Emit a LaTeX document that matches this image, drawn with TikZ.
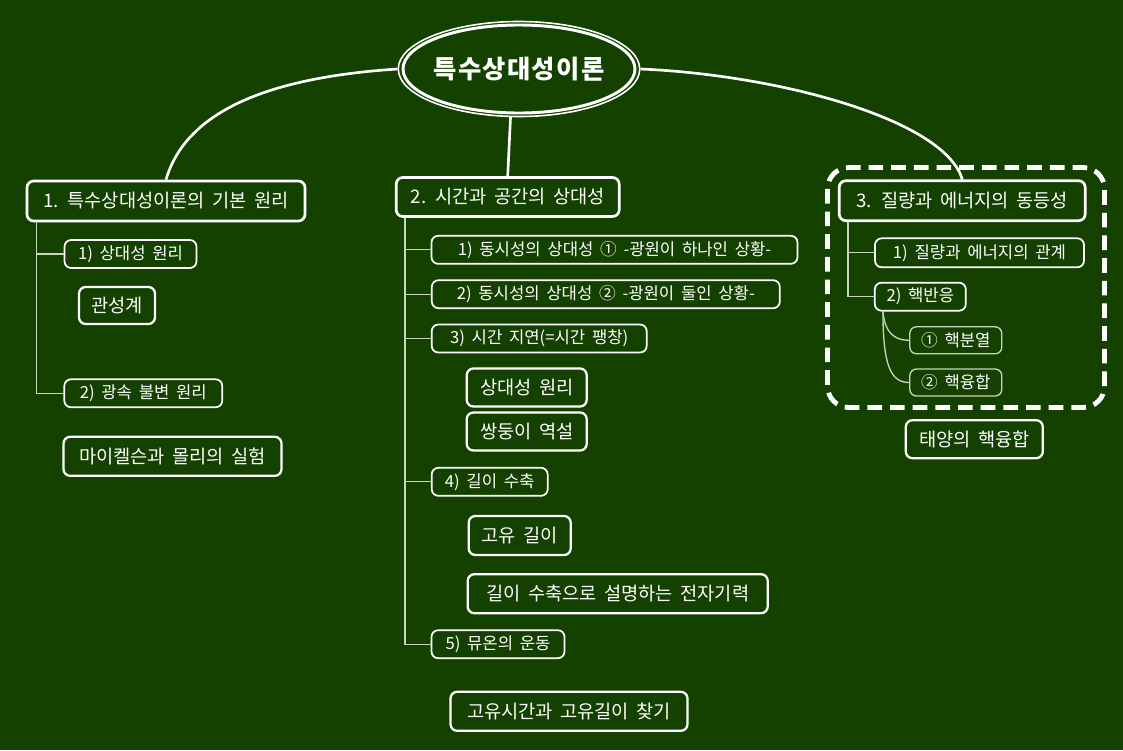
\documentclass[tikz,border=0pt]{standalone}
\usepackage{fontspec}
\setmainfont{Noto Sans CJK KR}[WordSpace=1.8]
\usetikzlibrary{shapes.geometric}
\definecolor{board}{RGB}{20,64,0}
\definecolor{twig}{RGB}{200,212,190}
\newcommand\pxu{0.75pt}
\tikzset{topbox/.style={draw=white, line width=2pt, rounded corners=5pt, inner sep=0pt, text=white, font=\fontsize{14}{16}\selectfont},
 subbox/.style={draw=white, line width=1.3pt, rounded corners=5pt, inner sep=0pt, text=white, font=\fontsize{12.5}{14}\selectfont},
 leafbox/.style={draw=white, line width=1.7pt, rounded corners=5pt, inner sep=0pt, text=white, font=\fontsize{14}{16}\selectfont},
 twigbox/.style={subbox, draw=twig, line width=1pt},
 sz/.style 2 args={minimum width=#1*\pxu, minimum height=#2*\pxu},
 stem/.style={white, line width=2pt},
 twigline/.style={twig, line width=1pt}}

\begin{document}
\begin{tikzpicture}[x=\pxu, y=-\pxu]
  \fill[board] (0,0) rectangle (1123,750);
  \node[ellipse, draw=white, line width=1.2pt, sz={240}{95}, inner sep=0pt, text=white, font=\fontsize{19}{21}\selectfont\bfseries\addfontfeature{LetterSpace=5}] (root) at (519,69) {특수상대성이론};
  \draw[white, line width=2.2pt] (root.center) ellipse [x radius=116, y radius=44];

  \node[topbox, sz={278}{40}] (n1) at (166,201) {1. 특수상대성이론의 기본 원리};
  \node[subbox, sz={132}{28}] (n1a) at (130.5,254) {1) 상대성 원리};
  \node[leafbox, sz={76}{37}] (k1) at (117,305.5) {관성계};
  \node[subbox, sz={158}{28}] (n1b) at (143.3,393.3) {2) 광속 불변 원리};
  \node[leafbox, sz={218}{39}] (k2) at (172.5,456.3) {마이켈슨과 몰리의 실험};

  \node[topbox, sz={223}{39}] (n2) at (507.7,197) {2. 시간과 공간의 상대성};
  \node[subbox, sz={366}{28}] (n2a) at (614.5,249.8) {1) 동시성의 상대성 ① -광원이 하나인 상황-};
  \node[subbox, sz={348}{28}] (n2b) at (605.8,294.2) {2) 동시성의 상대성 ② -광원이 둘인 상황-};
  \node[subbox, sz={215}{28}] (n2c) at (539.2,338.5) {3) 시간 지연(=시간 팽창)};
  \node[leafbox, sz={120}{38}] (k3) at (526.7,387.5) {상대성 원리};
  \node[leafbox, sz={120}{38}] (k4) at (526.7,431.5) {쌍둥이 역설};
  \node[subbox, sz={116}{28}] (n2d) at (489.7,481.8) {4) 길이 수축};
  \node[leafbox, sz={102}{39}] (k5) at (519.7,535.5) {고유 길이};
  \node[leafbox, sz={300}{39}] (k6) at (617.7,593.7) {길이 수축으로 설명하는 전자기력};
  \node[subbox, sz={133}{28}] (n2e) at (498,644.2) {5) 뮤온의 운동};
  \node[leafbox, sz={237}{39}] (k7) at (569,711.3) {고유시간과 고유길이 찾기};

  \node[topbox, sz={246}{40}] (n3) at (962.2,200.7) {3. 질량과 에너지의 동등성};
  \node[subbox, sz={209}{29}] (n3a) at (979.5,252.8) {1) 질량과 에너지의 관계};
  \node[subbox, sz={91}{28}] (n3b) at (920.3,296.7) {2) 핵반응};
  \node[twigbox, sz={92}{27}] (n3b1) at (955.8,340.3) {① 핵분열};
  \node[twigbox, sz={92}{27}] (n3b2) at (955.8,382.5) {② 핵융합};
  \node[leafbox, sz={137}{38}] (k8) at (974.3,439.2) {태양의 핵융합};
  \draw[white, line width=3.6pt, dash pattern=on 11pt off 6pt, rounded corners=16pt] (827.5,167.5) rectangle (1104.5,407.5);

  \draw[stem] (root.west) .. controls (260,78) and (185,115) .. (n1.north);
  \draw[stem] (root.260) -- (n2.north);
  \draw[stem] (root.east) .. controls (780,75) and (945,120) .. (n3.north);

  \draw[twigline] (n1.south west) ++(11,0) |- (n1a.west);
  \draw[twigline] (n1.south west) ++(11,0) |- (n1b.west);
  \draw[twigline] (n2.south west) ++(10,0) |- (n2a.west);
  \draw[twigline] (n2.south west) ++(10,0) |- (n2b.west);
  \draw[twigline] (n2.south west) ++(10,0) |- (n2c.west);
  \draw[twigline] (n2.south west) ++(10,0) |- (n2d.west);
  \draw[twigline] (n2.south west) ++(10,0) |- (n2e.west);
  \draw[twigline] (n3.south west) ++(10,0) |- (n3a.west);
  \draw[twigline] (n3.south west) ++(10,0) |- (n3b.west);
  \draw[twigline] (n3b.south west) ++(9,0) .. controls +(2,22) and +(-14,0) .. (n3b1.west);
  \draw[twigline] (n3b.south west) ++(9,0) .. controls +(0,55) and +(-18,0) .. (n3b2.west);
\end{tikzpicture}
\end{document}
